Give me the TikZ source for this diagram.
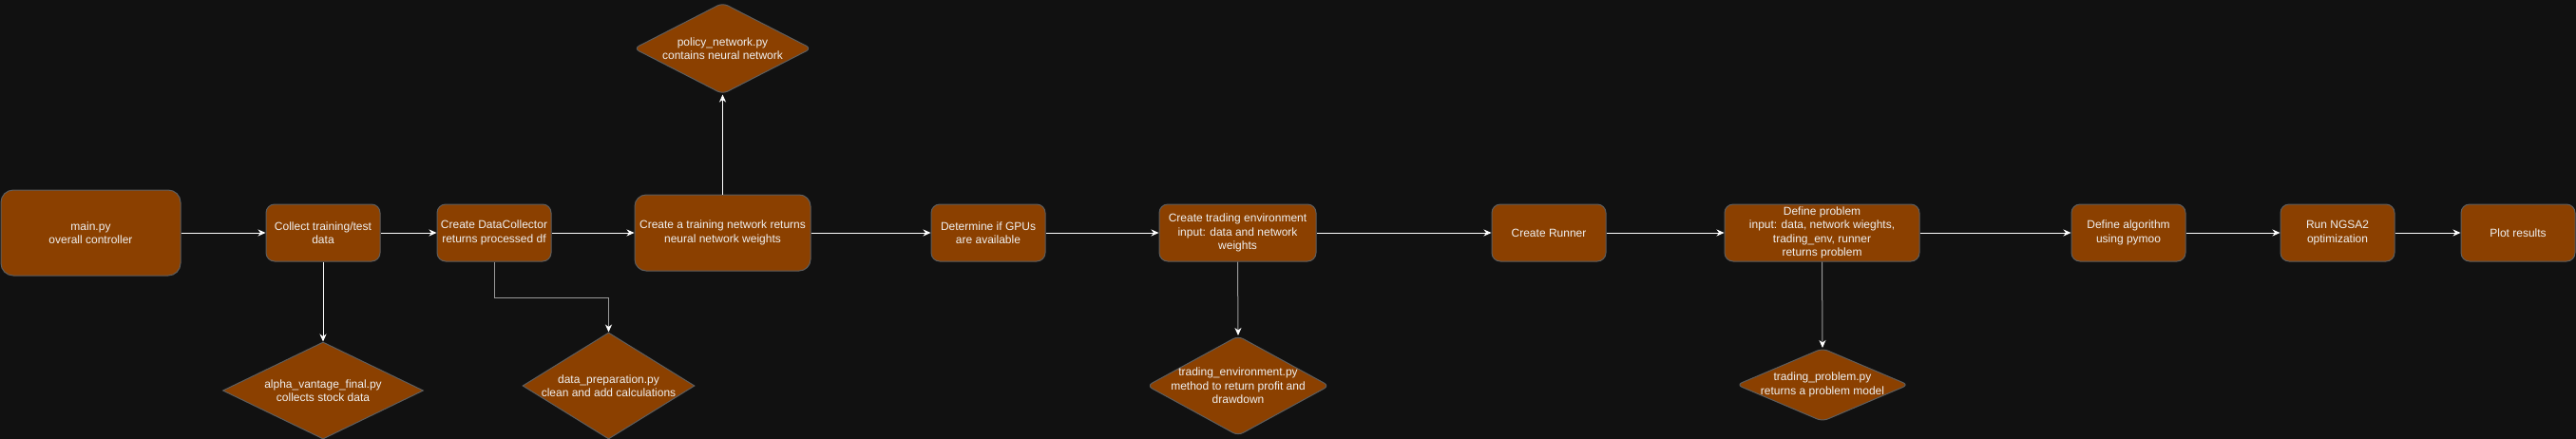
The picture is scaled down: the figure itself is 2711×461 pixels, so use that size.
\documentclass[tikz,border=0pt]{standalone}
\usepackage{fontspec}
\setmainfont{Liberation Sans}
\usetikzlibrary{shapes.geometric,arrows.meta}
\definecolor{bg}{HTML}{111111}
\definecolor{boxfill}{HTML}{8B4000}
\definecolor{boxline}{HTML}{5E5E5E}
\definecolor{txtcol}{HTML}{F0F0F0}
\definecolor{linkgray}{HTML}{9A9A9A}

\begin{document}
\begin{tikzpicture}[x=1pt, y=-1pt,
  every node/.style={font=\fontsize{12}{14.5}\selectfont, text=txtcol, align=center},
  stepbox/.style={draw=boxline, fill=boxfill, line width=1pt, rounded corners=9pt, minimum width=120pt, minimum height=60pt, inner sep=1pt},
  pyfile/.style={draw=boxline, fill=boxfill, line width=1pt, diamond, inner sep=0pt},
  link/.style={draw=white, line width=1pt, -{Stealth[length=8pt, width=7pt, inset=2.5pt]}},
  sublink/.style={link, draw=linkgray, -{Stealth[length=8pt, width=7pt, inset=2.5pt, color=white]}}]
  \useasboundingbox (0,0) rectangle (2711,461);
  \fill[bg] (-3,-3) rectangle (2714,464);
  % main flow
  \node[stepbox, minimum width=189pt, minimum height=90pt, rounded corners=13pt] (main) at (95.5,245) {main.py\\overall controller};
  \node[stepbox] (collect) at (340,245) {Collect training/test\\data};
  \node[stepbox] (collector) at (520,245) {Create DataCollector\\returns processed df};
  \node[stepbox, minimum width=185pt, minimum height=80pt, rounded corners=12pt] (train) at (760.5,245) {Create a training network returns\\neural network weights};
  \node[stepbox] (gpu) at (1040,245) {Determine if GPUs\\are available};
  \node[stepbox, minimum width=165pt] (env) at (1302.5,245) {Create trading environment\\input: data and network\\weights};
  \node[stepbox] (runner) at (1630,245) {Create Runner};
  \node[stepbox, minimum width=205pt] (problem) at (1917.5,245) {Define problem\\input: data, network wieghts,\\trading\_env, runner\\returns problem};
  \node[stepbox] (algo) at (2240,245) {Define algorithm\\using pymoo};
  \node[stepbox] (nsga) at (2460,245) {Run NGSA2\\optimization};
  \node[stepbox] (plot) at (2650,245) {Plot results};
  % python files
  \node[pyfile, rounded corners=6pt, minimum width=187pt, minimum height=96pt, label={[name=policytxt]center:policy\_network.py\\contains neural network}] (policy) at (760.5,51) {};
  \node[pyfile, minimum width=211pt, minimum height=102pt, label={[name=alphatxt]center:alpha\_vantage\_final.py\\collects stock data}] (alpha) at (340,411) {};
  \node[pyfile, minimum width=181pt, minimum height=112pt, label={[name=preptxt]center:data\_preparation.py\\clean and add calculations}] (prep) at (640.5,406) {};
  \node[pyfile, rounded corners=6pt, minimum width=192pt, minimum height=105pt, label={[name=envtxt]center:trading\_environment.py\\method to return profit and\\drawdown}] (envfile) at (1303,406) {};
  \node[pyfile, rounded corners=6pt, minimum width=181pt, minimum height=77pt, label={[name=probtxt]center:trading\_problem.py\\returns a problem model}] (probfile) at (1918,405) {};
  % Draw the flow arrows
  \draw[link] (main.east) -- (collect.west);
  \draw[link] (collect.east) -- (collector.west);
  \draw[link] (collector.east) -- (train.west);
  \draw[link] (train.east) -- (gpu.west);
  \draw[link] (gpu.east) -- (env.west);
  \draw[link] (env.east) -- (runner.west);
  \draw[link] (runner.east) -- (problem.west);
  \draw[link] (problem.east) -- (algo.west);
  \draw[link] (algo.east) -- (nsga.west);
  \draw[link] (nsga.east) -- (plot.west);
  % Draw the file links
  \draw[link] (train.north) -- (policy.south);
  \draw[link] (collect.south) -- (alpha.north);
  \draw[sublink] (collector.south) -- ++(0,38) -| (prep.north);
  \draw[sublink] (env.south) -- (envfile.north);
  \draw[sublink] (problem.south) -- (probfile.north);
\end{tikzpicture}
\end{document}
